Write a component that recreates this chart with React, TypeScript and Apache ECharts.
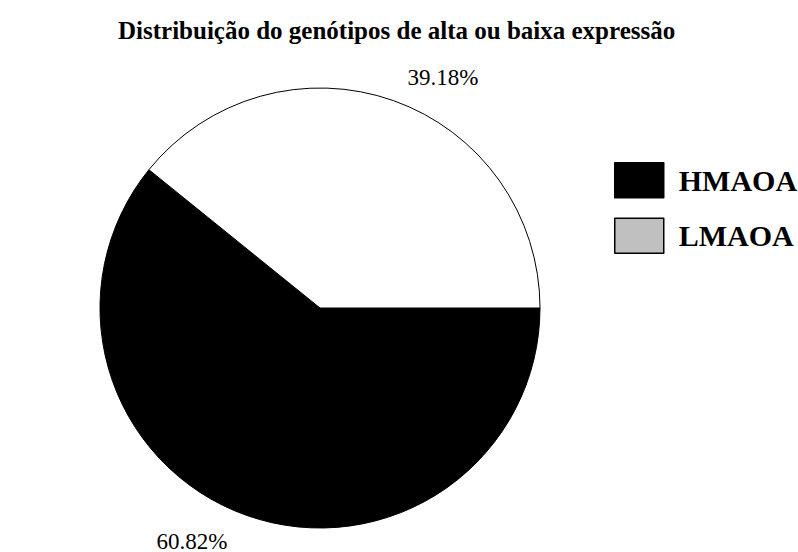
import React, { useEffect, useRef } from "react";
import * as echarts from "echarts";

const categories = ["HMAOA", "LMAOA"];
const values = [60.82, 39.18];
const sliceColors = ["#000000", "#ffffff"];
const legendColors = ["#000000", "#c0c0c0"];
const titleText = "Distribuição do genótipos de alta ou baixa expressão";

const labelSpots = [
  { x: 192, y: 541 },
  { x: 443, y: 77 },
];

export default function App() {
  const ref = useRef<HTMLDivElement>(null);
  useEffect(() => {
    if (!ref.current) return;
    const chart = echarts.init(ref.current, null, { renderer: "svg" });
    const font = "'Liberation Serif', 'Times New Roman', serif";
    chart.setOption({
      animation: false,
      backgroundColor: "#ffffff",
      title: {
        text: titleText,
        left: 113,
        top: 13,
        textStyle: { fontFamily: font, fontSize: 25, fontWeight: "bold", color: "#000" },
      },
      legend: {
        orient: "vertical",
        left: 609,
        top: 157,
        icon: "rect",
        itemWidth: 49,
        itemHeight: 35,
        itemGap: 19,
        selectedMode: false,
        textStyle: {
          fontFamily: font,
          fontSize: 30,
          fontWeight: "bold",
          color: "#000",
          padding: [0, 0, 0, 10],
        },
        data: categories.map((c, i) => ({
          name: c,
          itemStyle: { color: legendColors[i], borderColor: "#000", borderWidth: 1.5 },
        })),
      },
      series: [
        {
          type: "pie",
          center: [320, 308],
          radius: 220,
          startAngle: 0,
          clockwise: true,
          avoidLabelOverlap: false,
          itemStyle: { borderColor: "#000", borderWidth: 1 },
          label: {
            show: true,
            position: "outside",
            formatter: (p: any) => p.value.toFixed(2) + "%",
            fontFamily: font,
            fontSize: 23,
            color: "#000",
          },
          labelLine: { show: false },
          labelLayout: (p: any) => ({
            x: labelSpots[p.dataIndex].x,
            y: labelSpots[p.dataIndex].y,
            align: "center",
            verticalAlign: "middle",
          }),
          emphasis: { disabled: true },
          data: categories.map((c, i) => ({
            name: c,
            value: values[i],
            itemStyle: { color: sliceColors[i] },
          })),
        },
      ],
    });
    return () => chart.dispose();
  }, []);
  return (
    <div
      ref={ref}
      style={{ position: "fixed", left: 0, top: 0, width: 798, height: 552 }}
    />
  );
}
